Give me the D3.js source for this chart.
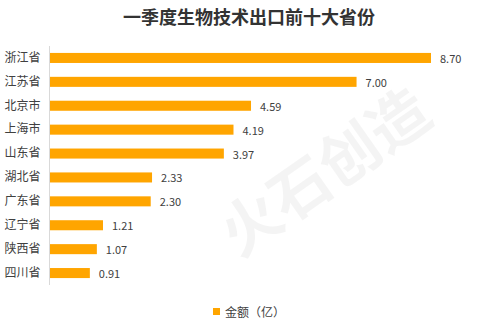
<!DOCTYPE html>
<html>
<head>
<meta charset="utf-8">
<script src="https://cdn.jsdelivr.net/npm/d3@7"></script>
<style>
  html, body { margin: 0; padding: 0; background: #fff; }
  svg { display: block; font-family: "Noto Sans CJK SC", "Microsoft YaHei", sans-serif; }
</style>
</head>
<body>
<svg id="chart" width="482" height="325"></svg>
<script>
const provinces = ["浙江省", "江苏省", "北京市", "上海市", "山东省", "湖北省", "广东省", "辽宁省", "陕西省", "四川省"];
const amounts = [8.70, 7.00, 4.59, 4.19, 3.97, 2.33, 2.30, 1.21, 1.07, 0.91];
const titleText = "一季度生物技术出口前十大省份";
const legendText = "金额（亿）";
const watermarkText = "火石创造";

const svg = d3.select("#chart");
const barColor = "#FFA500";
const textColor = "#404040";

// faint watermark behind the chart
svg.append("text")
  .attr("transform", "translate(322,168) rotate(-35)")
  .attr("text-anchor", "middle")
  .attr("dominant-baseline", "central")
  .attr("font-size", 60)
  .attr("font-weight", 700)
  .attr("fill", "#000")
  .attr("fill-opacity", 0.045)
  .text(watermarkText);

const x = d3.scaleLinear().domain([0, 8.70]).range([50, 431]);
const y = d3.scaleBand().domain(provinces).range([46, 285]).paddingInner(0.58).paddingOuter(0.29);

// title
svg.append("text")
  .attr("x", 249).attr("y", 24)
  .attr("text-anchor", "middle")
  .attr("font-size", 18)
  .attr("font-weight", 700)
  .attr("fill", "#333")
  .text(titleText);

// bars
svg.selectAll("rect.bar")
  .data(provinces)
  .join("rect")
  .attr("class", "bar")
  .attr("x", x(0))
  .attr("y", d => y(d))
  .attr("width", (d, i) => x(amounts[i]) - x(0))
  .attr("height", y.bandwidth())
  .attr("fill", barColor);

// value labels
svg.selectAll("text.val")
  .data(provinces)
  .join("text")
  .attr("class", "val")
  .attr("x", (d, i) => x(amounts[i]) + 9)
  .attr("y", d => y(d) + y.bandwidth() / 2)
  .attr("dominant-baseline", "central")
  .attr("font-size", 11)
  .attr("fill", textColor)
  .text((d, i) => amounts[i].toFixed(2));

// category axis
const axis = svg.append("g")
  .attr("transform", `translate(${x(0) - 0.5},0)`)
  .call(d3.axisLeft(y).tickSize(0).tickPadding(9));
axis.select(".domain").attr("stroke", "#d9d9d9").attr("d", "M0,46V285");
axis.selectAll("text")
  .attr("font-size", 12)
  .attr("fill", textColor)
  .attr("font-family", "\"Noto Sans CJK SC\", sans-serif");

// legend
const lg = svg.append("g").attr("transform", "translate(213,308)");
lg.append("rect").attr("width", 7).attr("height", 7).attr("fill", barColor);
lg.append("text")
  .attr("x", 12).attr("y", 3.5)
  .attr("dominant-baseline", "central")
  .attr("font-size", 12)
  .attr("fill", textColor)
  .text(legendText);
</script>
</body>
</html>
